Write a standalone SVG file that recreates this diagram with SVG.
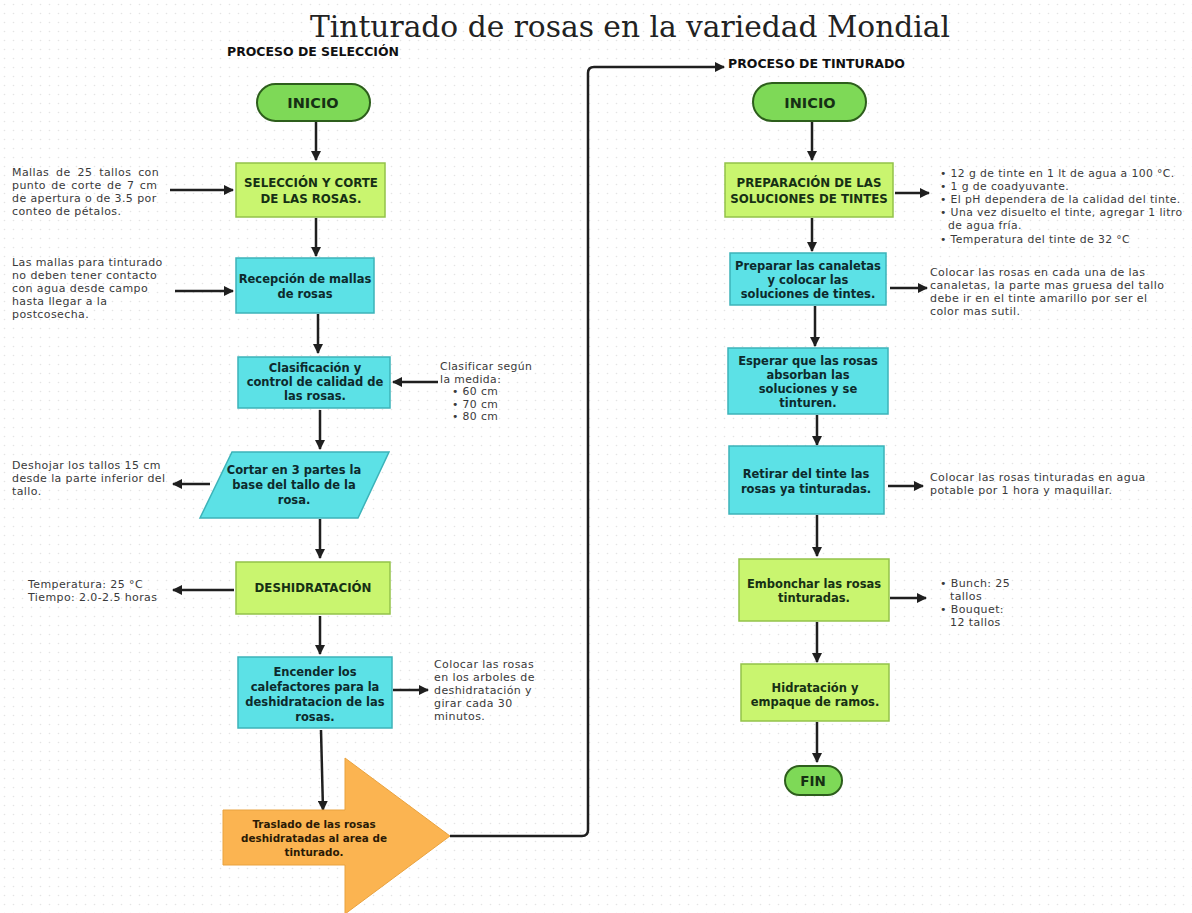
<svg xmlns="http://www.w3.org/2000/svg" width="1192" height="913" viewBox="0 0 1192 913">
<defs>
  <pattern id="dots" width="9" height="9" patternUnits="userSpaceOnUse">
    <circle cx="4.5" cy="4.5" r="0.8" fill="#e4e4e4"/>
  </pattern>
  <marker id="ah" viewBox="0 0 10 10" refX="9" refY="5" markerWidth="4" markerHeight="4" orient="auto" markerUnits="strokeWidth">
    <path d="M0,0 L10,5 L0,10 Z" fill="#1f1f1f"/>
  </marker>
  <style>
    .title{font-family:"DejaVu Serif","Liberation Serif",serif;font-size:30px;fill:#222;}
    .hdr{font-family:"DejaVu Sans","Liberation Sans",sans-serif;font-weight:700;font-size:12px;fill:#111;}
    .pill{fill:#7ed957;stroke:#2d5e1c;stroke-width:2;}
    .lime{fill:#c9f56f;stroke:#93c24a;stroke-width:1.5;}
    .cyan{fill:#5ce1e6;stroke:#3cb3b9;stroke-width:1.5;}
    .orange{fill:#fbb451;stroke:#e9a23e;stroke-width:1;}
    .nt{font-family:"DejaVu Sans","Liberation Sans",sans-serif;font-weight:700;font-size:11.5px;fill:#163014;text-anchor:middle;}
    .nc{font-family:"DejaVu Sans","Liberation Sans",sans-serif;font-weight:700;font-size:11.5px;fill:#0d2a2c;text-anchor:middle;}
    .cap{font-family:"DejaVu Sans","Liberation Sans",sans-serif;font-weight:700;font-size:11.8px;fill:#163014;text-anchor:middle;}
    .big{font-size:14.5px;}
    .tr{font-family:"DejaVu Sans","Liberation Sans",sans-serif;font-weight:700;font-size:10.4px;fill:#2a1a05;text-anchor:middle;}
    .note{font-family:"DejaVu Sans","Liberation Sans",sans-serif;font-size:11px;letter-spacing:0.4px;fill:#3a3a3a;}
    .sm{font-size:10.8px;}
    .ln{fill:none;stroke:#1f1f1f;stroke-width:2.5;marker-end:url(#ah);}
  </style>
</defs>
<rect width="1192" height="913" fill="#ffffff"/>
<rect width="1192" height="913" fill="url(#dots)"/>

<text class="title" x="630" y="37" text-anchor="middle" textLength="640" lengthAdjust="spacingAndGlyphs">Tinturado de rosas en la variedad Mondial</text>
<text class="hdr" x="227" y="56" textLength="172" lengthAdjust="spacingAndGlyphs">PROCESO DE SELECCIÓN</text>
<text class="hdr" x="728" y="68" textLength="177" lengthAdjust="spacingAndGlyphs">PROCESO DE TINTURADO</text>

<g id="connectors">
  <path class="ln" d="M316,122 V160"/>
  <path class="ln" d="M170,190 H233"/>
  <path class="ln" d="M316,218 V256"/>
  <path class="ln" d="M175,291 H233"/>
  <path class="ln" d="M318,314 V353"/>
  <path class="ln" d="M438,382 H393"/>
  <path class="ln" d="M320,410 V449"/>
  <path class="ln" d="M210,484 H173"/>
  <path class="ln" d="M320,519 V558"/>
  <path class="ln" d="M234,590 H173"/>
  <path class="ln" d="M320,616 V654"/>
  <path class="ln" d="M393,690 H428"/>
  <path class="ln" d="M321,730 L323,810"/>
  <path class="ln" d="M450,836 H582 Q588,836 588,830 V73 Q588,67 594,67 H724"/>
  <path class="ln" d="M812,122 V160"/>
  <path class="ln" d="M895,193 H929"/>
  <path class="ln" d="M812,218 V251"/>
  <path class="ln" d="M890,288 H927"/>
  <path class="ln" d="M815,306 V346"/>
  <path class="ln" d="M817,415 V445"/>
  <path class="ln" d="M888,486 H923"/>
  <path class="ln" d="M817,515 V556"/>
  <path class="ln" d="M890,598 H926"/>
  <path class="ln" d="M817,622 V662"/>
  <path class="ln" d="M817,722 V762"/>
</g>

<!-- Left column -->
<g id="inicio1">
  <rect class="pill" x="257" y="84" width="113" height="37" rx="18.5"/>
  <text class="cap big" x="313" y="108">INICIO</text>
</g>
<g id="seleccion">
  <rect class="lime" x="236" y="163" width="149" height="54"/>
  <text class="cap" x="311" y="187">SELECCIÓN Y CORTE</text>
  <text class="cap" x="311" y="203">DE LAS ROSAS.</text>
</g>
<g id="note-mallas">
  <text class="note" x="12" y="176" style="word-spacing:3px">Mallas de 25 tallos con</text>
  <text class="note" x="12" y="189" style="word-spacing:1.5px">punto de corte de 7 cm</text>
  <text class="note" x="12" y="202">de apertura o de 3.5 por</text>
  <text class="note" x="12" y="215">conteo de pétalos.</text>
</g>
<g id="recepcion">
  <rect class="cyan" x="236" y="258" width="138" height="55"/>
  <text class="nc" x="305" y="283">Recepción de mallas</text>
  <text class="nc" x="305" y="298">de rosas</text>
</g>
<g id="note-contacto">
  <text class="note" x="12" y="266">Las mallas para tinturado</text>
  <text class="note" x="12" y="279">no deben tener contacto</text>
  <text class="note" x="12" y="292">con agua desde campo</text>
  <text class="note" x="12" y="305">hasta llegar a la</text>
  <text class="note" x="12" y="318">postcosecha.</text>
</g>
<g id="clasificacion">
  <rect class="cyan" x="238" y="357" width="152" height="51"/>
  <text class="nc" x="315" y="372">Clasificación y</text>
  <text class="nc" x="315" y="386">control de calidad de</text>
  <text class="nc" x="315" y="400">las rosas.</text>
</g>
<g id="note-medida">
  <text class="note sm" x="440" y="370">Clasificar según</text>
  <text class="note sm" x="440" y="382.5">la medida:</text>
  <text class="note sm" x="452" y="395">• 60 cm</text>
  <text class="note sm" x="452" y="407.5">• 70 cm</text>
  <text class="note sm" x="452" y="420">• 80 cm</text>
</g>
<g id="cortar">
  <polygon class="cyan" points="232,452 389,452 358,518 200,518"/>
  <text class="nc" x="294" y="474">Cortar en 3 partes la</text>
  <text class="nc" x="294" y="489">base del tallo de la</text>
  <text class="nc" x="294" y="504">rosa.</text>
</g>
<g id="note-deshojar">
  <text class="note" x="12" y="469">Deshojar los tallos 15 cm</text>
  <text class="note" x="12" y="482">desde la parte inferior del</text>
  <text class="note" x="12" y="495">tallo.</text>
</g>
<g id="deshidratacion">
  <rect class="lime" x="236" y="562" width="154" height="52"/>
  <text class="cap" x="313" y="592">DESHIDRATACIÓN</text>
</g>
<g id="note-temp">
  <text class="note" x="28" y="588">Temperatura: 25 °C</text>
  <text class="note" x="28" y="601">Tiempo: 2.0-2.5 horas</text>
</g>
<g id="encender">
  <rect class="cyan" x="238" y="657" width="154" height="71"/>
  <text class="nc" x="315" y="676">Encender los</text>
  <text class="nc" x="315" y="691">calefactores para la</text>
  <text class="nc" x="315" y="706">deshidratacion de las</text>
  <text class="nc" x="315" y="721">rosas.</text>
</g>
<g id="note-arboles">
  <text class="note" x="434" y="668">Colocar las rosas</text>
  <text class="note" x="434" y="681">en los arboles de</text>
  <text class="note" x="434" y="694">deshidratación y</text>
  <text class="note" x="434" y="707">girar cada 30</text>
  <text class="note" x="434" y="720">minutos.</text>
</g>
<g id="traslado">
  <polygon class="orange" points="223,810 345,810 345,758 450,836 345,914 345,865 223,865"/>
  <text class="tr" x="314" y="828">Traslado de las rosas</text>
  <text class="tr" x="314" y="842">deshidratadas al area de</text>
  <text class="tr" x="314" y="856">tinturado.</text>
</g>

<!-- Right column -->
<g id="inicio2">
  <rect class="pill" x="753" y="83" width="113" height="38" rx="19"/>
  <text class="cap big" x="810" y="108">INICIO</text>
</g>
<g id="preparacion">
  <rect class="lime" x="725" y="163" width="168" height="54"/>
  <text class="cap" x="809" y="187">PREPARACIÓN DE LAS</text>
  <text class="cap" x="809" y="203">SOLUCIONES DE TINTES</text>
</g>
<g id="note-tintes">
  <text class="note sm" x="940" y="177">• 12 g de tinte en 1 lt de agua a 100 °C.</text>
  <text class="note sm" x="940" y="190">• 1 g de coadyuvante.</text>
  <text class="note sm" x="940" y="203">• El pH dependera de la calidad del tinte.</text>
  <text class="note sm" x="940" y="216">• Una vez disuelto el tinte, agregar 1 litro</text>
  <text class="note sm" x="948" y="229">de agua fría.</text>
  <text class="note sm" x="940" y="243">• Temperatura del tinte de 32 °C</text>
</g>
<g id="canaletas">
  <rect class="cyan" x="730" y="253" width="156" height="52"/>
  <text class="nc" x="808" y="270">Preparar las canaletas</text>
  <text class="nc" x="808" y="284">y colocar las</text>
  <text class="nc" x="808" y="298">soluciones de tintes.</text>
</g>
<g id="note-canaletas">
  <text class="note" x="930" y="276">Colocar las rosas en cada una de las</text>
  <text class="note" x="930" y="289">canaletas, la parte mas gruesa del tallo</text>
  <text class="note" x="930" y="302">debe ir en el tinte amarillo por ser el</text>
  <text class="note" x="930" y="315">color mas sutil.</text>
</g>
<g id="esperar">
  <rect class="cyan" x="728" y="348" width="160" height="66"/>
  <text class="nc" x="808" y="365">Esperar que las rosas</text>
  <text class="nc" x="808" y="379">absorban las</text>
  <text class="nc" x="808" y="393">soluciones y se</text>
  <text class="nc" x="808" y="407">tinturen.</text>
</g>
<g id="retirar">
  <rect class="cyan" x="729" y="446" width="155" height="68"/>
  <text class="nc" x="806" y="478">Retirar del tinte las</text>
  <text class="nc" x="806" y="493">rosas ya tinturadas.</text>
</g>
<g id="note-retirar">
  <text class="note" x="930" y="481">Colocar las rosas tinturadas en agua</text>
  <text class="note" x="930" y="494">potable por 1 hora y maquillar.</text>
</g>
<g id="embonchar">
  <rect class="lime" x="739" y="559" width="150" height="62"/>
  <text class="nt" x="814" y="588">Embonchar las rosas</text>
  <text class="nt" x="814" y="602">tinturadas.</text>
</g>
<g id="note-bunch">
  <text class="note" x="940" y="587">• Bunch: 25</text>
  <text class="note" x="950" y="600">tallos</text>
  <text class="note" x="940" y="613">• Bouquet:</text>
  <text class="note" x="950" y="626">12 tallos</text>
</g>
<g id="hidratacion">
  <rect class="lime" x="741" y="664" width="148" height="57"/>
  <text class="nt" x="815" y="692">Hidratación y</text>
  <text class="nt" x="815" y="706">empaque de ramos.</text>
</g>
<g id="fin">
  <rect class="pill" x="785" y="766" width="57" height="29" rx="14.5"/>
  <text class="cap" x="813" y="786" style="font-size:13.5px">FIN</text>
</g>
</svg>
